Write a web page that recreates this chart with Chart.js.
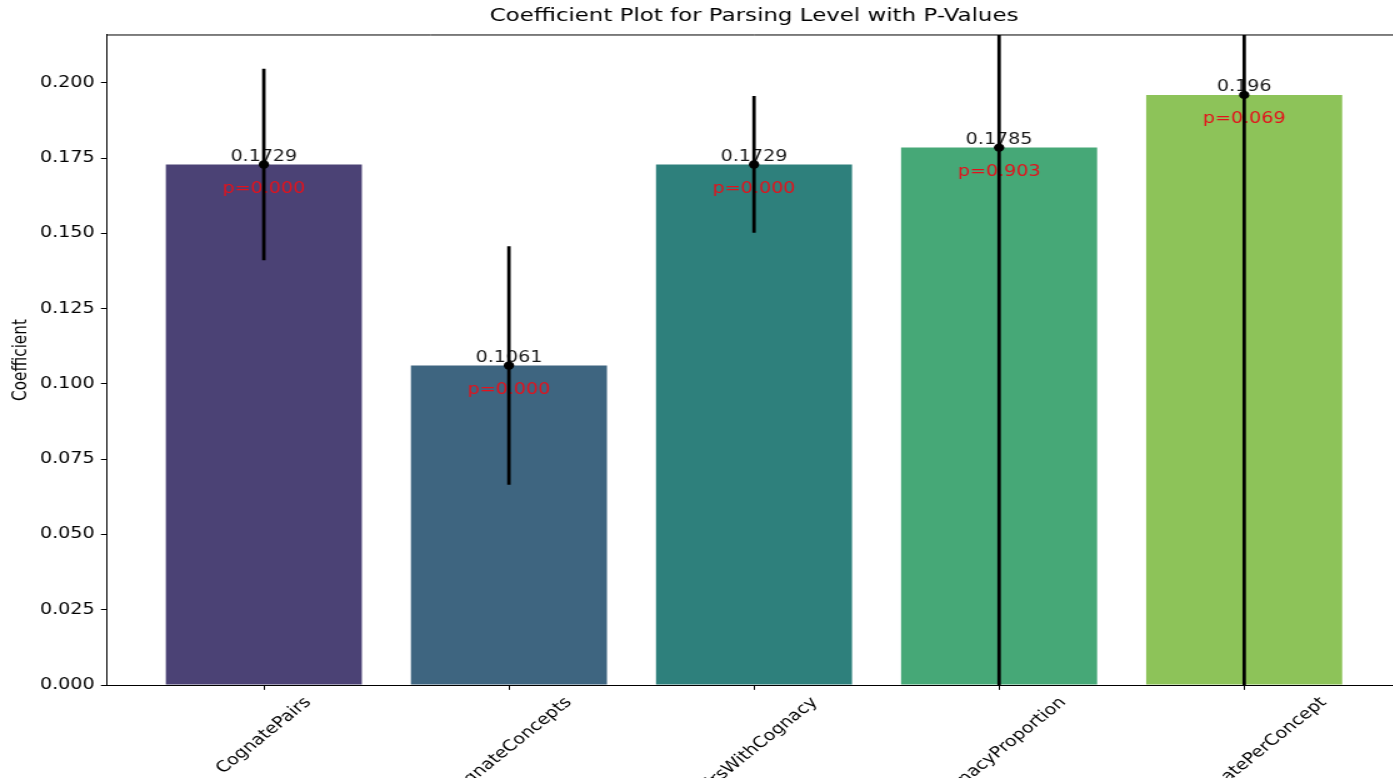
<!DOCTYPE html>
<html>
<head>
<meta charset="utf-8">
<title>Coefficient Plot for Parsing Level with P-Values</title>
<script src="https://cdn.jsdelivr.net/npm/chart.js@4.4.1/dist/chart.umd.min.js"></script>
<style>
  html, body { margin: 0; padding: 0; background: #fff; overflow: hidden; width: 1393px; height: 778px; }
  /* the figure is laid out on a narrower canvas and widened horizontally */
  #wrap { position: absolute; left: 0; top: 0; width: 1125px; height: 778px; transform: scaleX(1.25); transform-origin: 0 0; }
  canvas { display: block; }
</style>
</head>
<body>
<div id="wrap"><canvas id="chart"></canvas></div>
<script>
// ---- data ----
const categories = ['CognatePairs', 'CognateConcepts', 'PairsWithCognacy', 'CognacyProportion', 'AvgCognatePerConcept'];
const coefficients = [0.1729, 0.1061, 0.1729, 0.1785, 0.196];
const ciHalfWidths = [0.0317, 0.0395, 0.0226, 2.87, 0.211];
const pValues = [0.000, 0.000, 0.000, 0.903, 0.069];
const barColors = ['#4b4275', '#3e6580', '#2e807c', '#46a877', '#8dc359'];
const yTicks = [0, 0.025, 0.05, 0.075, 0.1, 0.125, 0.15, 0.175, 0.2];

// ---- style ----
const FONT = 'DejaVu Sans';
const FS = 15.28;          // 11pt
const TITLE_FS = 18.33;    // 13.2pt
const TICK_LEN = 4.86;
const TICK_PAD = 4.86;
Chart.defaults.font.family = FONT;
Chart.defaults.color = '#000';

const barPoints = coefficients.map((v, i) => ({ x: i, y: v }));
const ciRanges = coefficients.map((v, i) => ({ x: i, y: [v - ciHalfWidths[i], v + ciHalfWidths[i]] }));

// value / p-value labels, top spine and rotated category labels
const annotate = {
  id: 'annotate',
  afterDatasetDraw(chart, args) {
    if (args.index !== 0) return;
    const { ctx, scales: { x, y } } = chart;
    ctx.save();
    ctx.font = `${FS}px "${FONT}"`;
    ctx.textAlign = 'center';
    coefficients.forEach((v, i) => {
      const px = x.getPixelForValue(i);
      ctx.fillStyle = '#1a1a1a';
      ctx.textBaseline = 'bottom';
      ctx.fillText(String(v), px, y.getPixelForValue(v));
      ctx.fillStyle = '#e3121c';
      ctx.textBaseline = 'middle';
      ctx.fillText('p=' + pValues[i].toFixed(3), px, y.getPixelForValue(v - 0.008));
    });
    ctx.restore();
  },
  afterDraw(chart) {
    const { ctx, chartArea, scales: { x } } = chart;
    ctx.save();
    ctx.strokeStyle = '#000';
    ctx.lineWidth = 1;
    ctx.beginPath();
    ctx.moveTo(chartArea.left, chartArea.top);
    ctx.lineTo(chartArea.right, chartArea.top);
    ctx.stroke();

    ctx.font = `${FS}px "${FONT}"`;
    ctx.fillStyle = '#000';
    ctx.textAlign = 'center';
    ctx.textBaseline = 'alphabetic';
    categories.forEach((c, i) => {
      const px = x.getPixelForValue(i);
      const L = ctx.measureText(c).width;
      const half = Math.SQRT1_2 * (L + FS) / 2;
      const cy = chartArea.bottom + TICK_LEN + TICK_PAD + half;
      ctx.save();
      ctx.translate(px, cy);
      ctx.rotate(-Math.PI / 4);
      ctx.fillText(c, 0, 0.262 * FS);
      ctx.restore();
    });
    ctx.restore();
  }
};

new Chart(document.getElementById('chart'), {
  data: {
    datasets: [
      {
        type: 'bar', data: barPoints, backgroundColor: barColors, borderWidth: 0,
        barPercentage: 0.8, categoryPercentage: 1, grouped: false, order: 3, clip: 0
      },
      {
        type: 'bar', data: ciRanges, backgroundColor: '#000', borderWidth: 0,
        barThickness: 2.1, grouped: false, order: 2, clip: 0
      },
      {
        type: 'line', data: barPoints, showLine: false, pointRadius: 4.17, pointHoverRadius: 4.17,
        pointBackgroundColor: '#000', pointBorderColor: '#000', pointBorderWidth: 0, order: 1, clip: 0
      }
    ]
  },
  options: {
    responsive: true,
    maintainAspectRatio: false,
    animation: false,
    events: [],
    layout: { padding: { left: 0, right: 3.5, top: 0, bottom: 0 } },
    plugins: {
      legend: { display: false },
      tooltip: { enabled: false },
      title: {
        display: true,
        text: 'Coefficient Plot for Parsing Level with P-Values',
        font: { family: FONT, size: TITLE_FS, weight: 'normal' },
        color: '#000',
        padding: { top: 5.7, bottom: 7.3 },
        fullSize: false
      }
    },
    scales: {
      x: {
        type: 'linear', min: -0.64, max: 4.64, offset: false,
        afterBuildTicks: s => { s.ticks = categories.map((_, i) => ({ value: i })); },
        afterFit: s => { s.height = 93; },
        ticks: { display: false },
        grid: { display: true, offset: false, drawOnChartArea: false, drawTicks: true, tickLength: TICK_LEN, color: '#000', lineWidth: 1 },
        border: { display: true, color: '#000', width: 1 }
      },
      y: {
        type: 'linear', min: 0, max: 0.2159,
        afterBuildTicks: s => { s.ticks = yTicks.map(v => ({ value: v })); },
        afterFit: s => { s.width = 85.6; },
        ticks: { callback: v => v.toFixed(3), font: { family: FONT, size: FS }, color: '#000', padding: 5 },
        grid: { display: true, drawOnChartArea: false, drawTicks: true, tickLength: TICK_LEN, color: '#000', lineWidth: 1 },
        border: { display: true, color: '#000', width: 1 },
        title: {
          display: true, text: 'Coefficient', color: '#000',
          font: { family: FONT, size: FS }, padding: { top: 7.7, bottom: 0 }
        }
      }
    }
  },
  plugins: [annotate]
});
</script>
</body>
</html>
